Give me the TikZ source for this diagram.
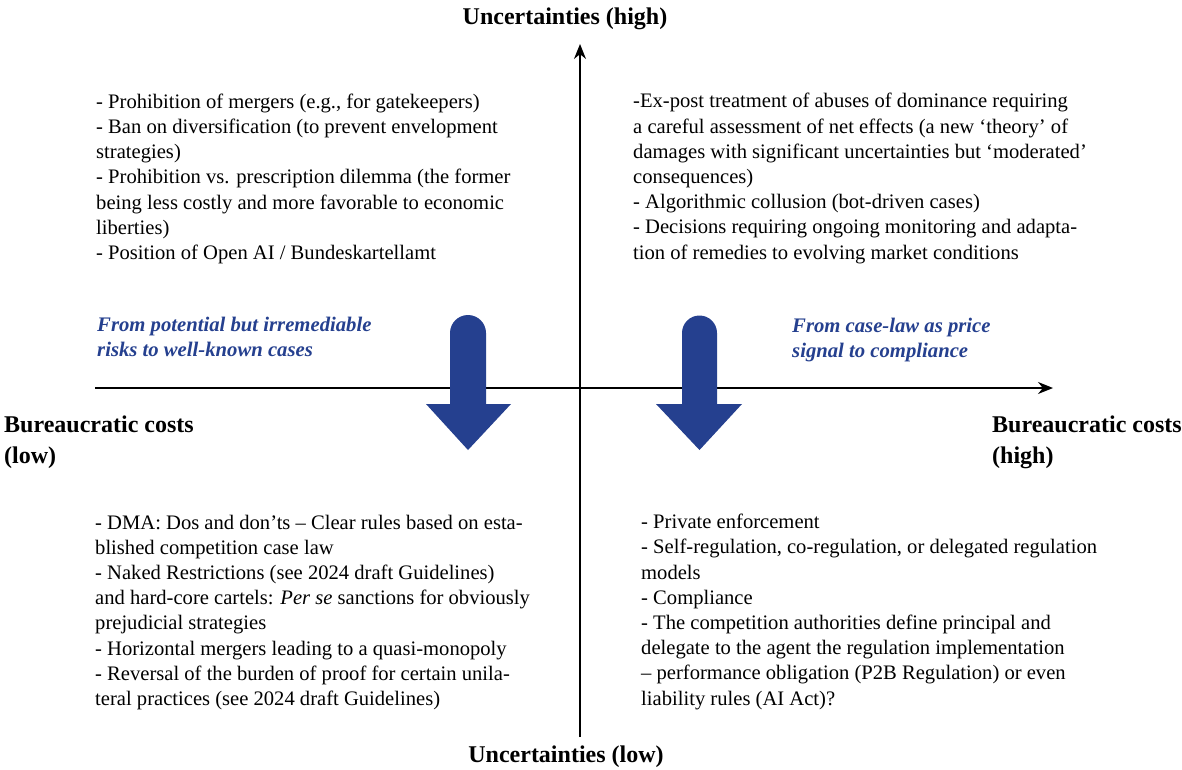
\documentclass[tikz,border=0pt]{standalone}
\usepackage{fontspec}
\setmainfont{Liberation Serif}
\usetikzlibrary{arrows.meta}
\definecolor{arrowblue}{RGB}{37,64,143}
\begin{document}
\begin{tikzpicture}[x=1pt,y=-1pt,
  % multi-line nodes: the base anchor sits on the last line's baseline
  body/.style={anchor=base west, inner sep=0pt, align=left,
    font=\fontsize{20.6}{25.2}\selectfont},
  axislabel/.style={inner sep=0pt, align=left,
    font=\fontsize{24}{31}\selectfont\bfseries},
  trend/.style={anchor=base west, inner sep=0pt, align=left, text=arrowblue,
    font=\fontsize{20.7}{25}\selectfont\bfseries\itshape},
  axisline/.style={line width=1.6pt, -{Stealth[length=15pt,width=12pt]}},
  blockarrow/.style={fill=arrowblue, draw=none}]
\useasboundingbox (0,0) rectangle (1182,769);
\fill[white] (0,0) rectangle (1182,769);

% axes
\coordinate (xl) at (95,388);
\coordinate (xr) at (1053,388);
\coordinate (yb) at (580,737);
\coordinate (yt) at (580,44);
\draw[axisline] (xl) -- (xr);
\draw[axisline] (yb) -- (yt);

% axis labels
\node[axislabel, anchor=base] (uhigh) at (565,24) {Uncertainties (high)};
\node[axislabel, anchor=base] (ulow) at (566,762) {Uncertainties (low)};
\node[axislabel, anchor=base west] (blow) at (4,463) {Bureaucratic costs\\(low)};
\node[axislabel, anchor=base west] (bhigh) at (992,463) {Bureaucratic costs\\(high)};

% block arrows
\fill[blockarrow] (468,450) -- (511,404) -- (486,404) -- (486,333)
  arc[start angle=0, end angle=180, radius=18pt] -- (450,404) -- (426,404) -- cycle;
\fill[blockarrow] (699.5,450) -- (742,404) -- (717,404) -- (717,333)
  arc[start angle=0, end angle=180, radius=17.5pt] -- (682,404) -- (656,404) -- cycle;

% trend labels
\node[trend] (trendl) at (97,356) {From potential but irremediable\\risks to well-known cases};
\node[trend] (trendr) at (792,357) {From case-law as price\\signal to compliance};

% quadrant contents
\node[body] (tl) at (96,259.5) {- Prohibition of mergers (e.g., for gatekeepers)\\
- Ban on diversification (to prevent envelopment\\
strategies)\\
- Prohibition vs. prescription dilemma (the former\\
being less costly and more favorable to economic\\
liberties)\\
- Position of Open AI / Bundeskartellamt};

\node[body] (tr) at (633,259) {-Ex-post treatment of abuses of dominance requiring\\
a careful assessment of net effects (a new `theory' of\\
damages with significant uncertainties but `moderated'\\
consequences)\\
- Algorithmic collusion (bot-driven cases)\\
- Decisions requiring ongoing monitoring and adapta-\\
tion of remedies to evolving market conditions};

\node[body] (bl) at (95,705.5) {- DMA: Dos and don'ts -- Clear rules based on esta-\\
blished competition case law\\
- Naked Restrictions (see 2024 draft Guidelines)\\
and hard-core cartels: \textit{Per se} sanctions for obviously\\
prejudicial strategies\\
- Horizontal mergers leading to a quasi-monopoly\\
- Reversal of the burden of proof for certain unila-\\
teral practices (see 2024 draft Guidelines)};

\node[body] (br) at (641,705) {- Private enforcement\\
- Self-regulation, co-regulation, or delegated regulation\\
models\\
- Compliance\\
- The competition authorities define principal and\\
delegate to the agent the regulation implementation\\
-- performance obligation (P2B Regulation) or even\\
liability rules (AI Act)?};
\end{tikzpicture}
\end{document}
